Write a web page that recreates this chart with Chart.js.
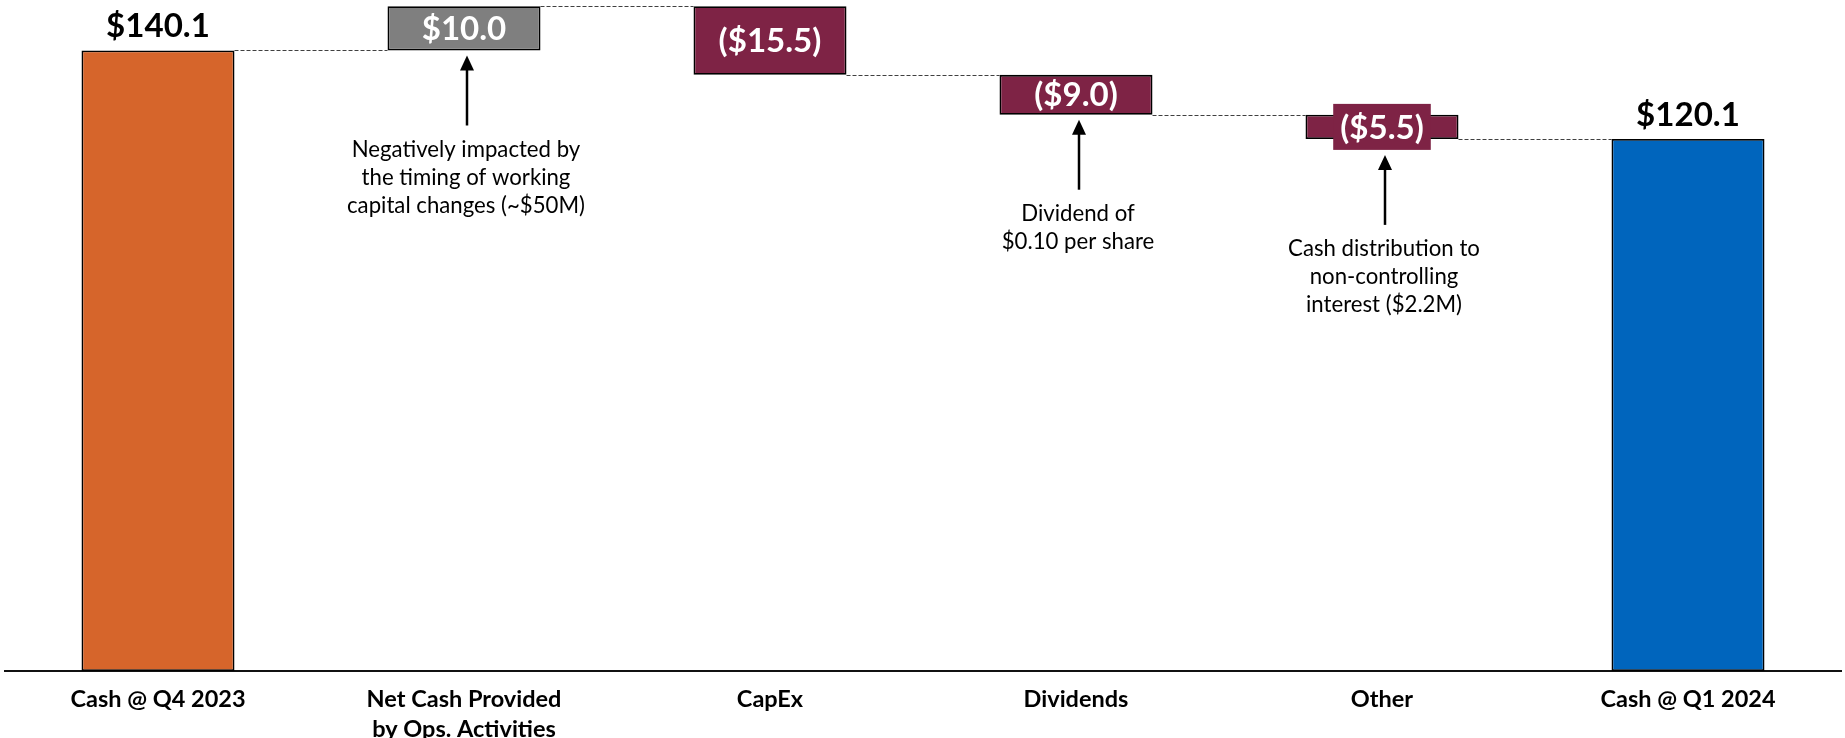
<!DOCTYPE html>
<html><head><meta charset="utf-8">
<script src="https://cdn.jsdelivr.net/npm/chart.js@4.4.1/dist/chart.umd.min.js"></script>
<style>html,body{margin:0;padding:0;background:#fff;overflow:hidden}canvas{display:block}</style>
</head><body><canvas id="c" width="1845" height="738"></canvas>
<script>
// ---- data ----
const categories = [["Cash @ Q4 2023"], ["Net Cash Provided", "by Ops. Activities"], ["CapEx"], ["Dividends"], ["Other"], ["Cash @ Q1 2024"]];
const startValue = 140.1;
const changes = [10.0, -15.5, -9.0, -5.5];
const endValue = 120.1;
const valueLabels = ["$140.1", "$10.0", "($15.5)", "($9.0)", "($5.5)", "$120.1"];
const barColors = ["rgb(214,101,43)", "rgb(127,127,127)", "rgb(126,35,69)", "rgb(126,35,69)", "rgb(126,35,69)", "rgb(0,101,189)"];
const notes = [null, ["Negatively impacted by", "the timing of working", "capital changes (~$50M)"], null, ["Dividend of", "$0.10 per share"], ["Cash distribution to", "non-controlling", "interest ($2.2M)"], null];

// ---- build floating ranges ----
const ranges = [[0, startValue]];
const levels = [startValue];
let run = startValue;
changes.forEach(c => { const next = Math.round((run + c) * 10) / 10; ranges.push([Math.min(run, next), Math.max(run, next)]); run = next; levels.push(run); });
ranges.push([0, endValue]);
levels.push(endValue);

const FAMILY = 'Lato, "Liberation Sans", sans-serif';
const mctx = document.createElement('canvas').getContext('2d');
function fitSize(text, target, weight) { mctx.font = weight + ' 100px ' + FAMILY; return Math.round(1000 * target / mctx.measureText(text).width) / 10; }
const valueSize = fitSize('$140.1', 104, 'bold');
const catSize = fitSize('Cash @ Q4 2023', 175, 'bold');
const noteSize = fitSize('Negatively impacted by', 229, 'normal');

const wfPlugin = {
  id: 'wf',
  beforeDatasetsDraw(chart) {
    const meta = chart.getDatasetMeta(0), y = chart.scales.y, ctx = chart.ctx;
    ctx.save();
    ctx.strokeStyle = '#404040'; ctx.lineWidth = 1; ctx.setLineDash([4, 2]);
    for (let i = 0; i < meta.data.length - 1; i++) {
      const a = meta.data[i], b = meta.data[i + 1];
      const py = Math.round(y.getPixelForValue(levels[i])) + 0.5;
      ctx.beginPath(); ctx.moveTo(a.x + a.width / 2, py); ctx.lineTo(b.x - b.width / 2, py); ctx.stroke();
    }
    ctx.restore();
  },
  afterDatasetsDraw(chart) {
    const meta = chart.getDatasetMeta(0), y = chart.scales.y, ctx = chart.ctx;
    ctx.save();
    ctx.textAlign = 'center'; ctx.textBaseline = 'middle';
    ctx.font = 'bold ' + valueSize + 'px ' + FAMILY;
    const isTotal = i => i === 0 || i === meta.data.length - 1;
    const lowest = [];
    meta.data.forEach((bar, i) => {
      const top = y.getPixelForValue(ranges[i][1]);
      const bot = y.getPixelForValue(ranges[i][0]);
      let low = bot;
      if (isTotal(i)) {
        ctx.fillStyle = '#000';
        ctx.fillText(valueLabels[i], bar.x, top - 24);
      } else {
        const mid = (top + bot) / 2;
        if (bot - top < 36) {
          const w = ctx.measureText(valueLabels[i]).width + 14, h = 46;
          ctx.fillStyle = barColors[i];
          ctx.fillRect(bar.x - w / 2, mid - h / 2, w, h);
          low = Math.max(low, mid + h / 2);
        }
        ctx.fillStyle = '#fff';
        ctx.fillText(valueLabels[i], bar.x, mid + 1);
      }
      lowest.push(low);
    });
    // arrows & notes
    ctx.font = 'normal ' + noteSize + 'px ' + FAMILY;
    meta.data.forEach((bar, i) => {
      if (!notes[i]) return;
      const ax = bar.x + 3, tip = lowest[i] + 5, len = 70, hh = 15, hw = 7;
      ctx.strokeStyle = '#000'; ctx.fillStyle = '#000'; ctx.lineWidth = 2.5;
      ctx.beginPath(); ctx.moveTo(ax, tip + hh - 1); ctx.lineTo(ax, tip + len); ctx.stroke();
      ctx.beginPath(); ctx.moveTo(ax, tip); ctx.lineTo(ax - hw, tip + hh); ctx.lineTo(ax + hw, tip + hh); ctx.closePath(); ctx.fill();
      notes[i].forEach((line, k) => ctx.fillText(line, bar.x + 2, tip + len + 24 + k * 28));
    });
    ctx.restore();
  }
};

new Chart(document.getElementById('c'), {
  type: 'bar',
  data: {
    labels: categories,
    datasets: [{
      data: ranges,
      backgroundColor: barColors,
      borderColor: '#000',
      borderWidth: 1.8,
      borderSkipped: false,
      barPercentage: 0.5,
      categoryPercentage: 1
    }]
  },
  options: {
    responsive: false,
    animation: false,
    layout: { padding: { left: 5, right: 4, top: 0, bottom: 0 } },
    plugins: { legend: { display: false }, tooltip: { enabled: false } },
    scales: {
      x: {
        grid: { display: false, drawTicks: false },
        border: { display: true, color: '#111', width: 2 },
        ticks: { color: '#000', padding: 13, font: { family: FAMILY, size: catSize, weight: 'bold', lineHeight: 1.3 } },
        afterFit(scale) { scale.height = 67; }
      },
      y: { display: false, min: 0, max: 151.5 }
    }
  },
  plugins: [wfPlugin]
});
</script>
</body></html>
